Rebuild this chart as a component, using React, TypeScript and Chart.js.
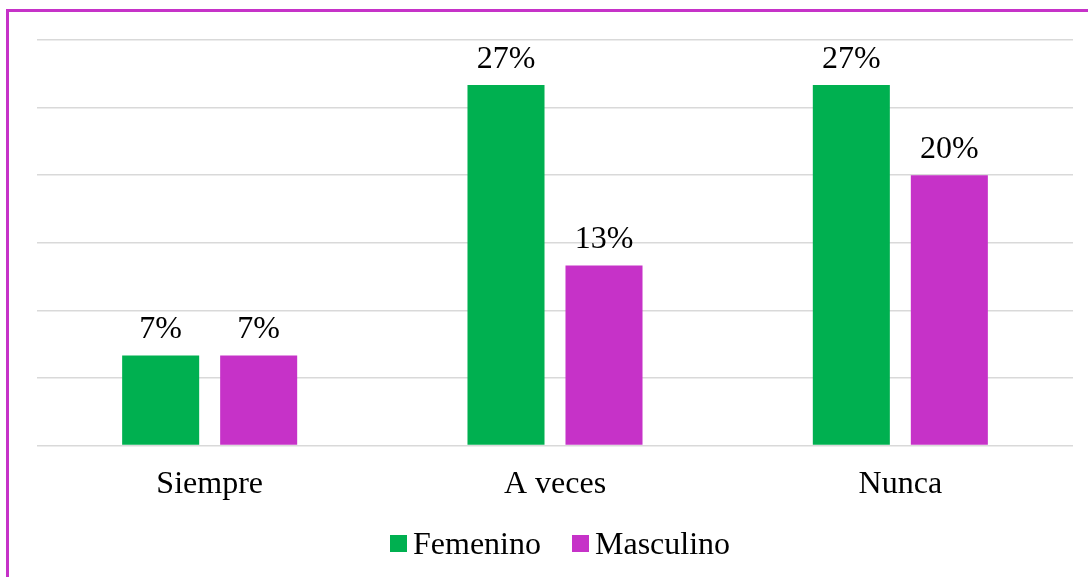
import React, { useEffect, useRef } from "react";
import { Chart, registerables } from "chart.js";

Chart.register(...registerables);

const categories = ["Siempre", "A veces", "Nunca"];
const femenino = [6.67, 26.67, 26.67];
const masculino = [6.67, 13.33, 20];
const seriesNames = ["Femenino", "Masculino"];
const yTicks = [0, 5, 10, 15, 20, 25, 30];

const GREEN = "#00B050";
const MAGENTA = "#C632C8";
const FONT = '"Liberation Serif", "Times New Roman", serif';

const labelPlugin = {
  id: "barLabels",
  afterDatasetsDraw(chart: any) {
    const ctx = chart.ctx;
    ctx.save();
    ctx.font = `32px ${FONT}`;
    ctx.fillStyle = "#000";
    ctx.textAlign = "center";
    ctx.textBaseline = "alphabetic";
    chart.data.datasets.forEach((ds: any, i: number) => {
      const meta = chart.getDatasetMeta(i);
      meta.data.forEach((el: any, j: number) => {
        const v = ds.data[j];
        ctx.fillText(Math.round(v) + "%", el.x, el.y - 17);
      });
    });
    ctx.restore();
  },
};

export default function App() {
  const ref = useRef<HTMLCanvasElement>(null);
  useEffect(() => {
    const chart = new Chart(ref.current!, {
      type: "bar",
      data: {
        labels: categories,
        datasets: [
          { label: seriesNames[0], data: femenino, backgroundColor: GREEN },
          { label: seriesNames[1], data: masculino, backgroundColor: MAGENTA },
        ],
      },
      options: {
        animation: false,
        responsive: false,
        maintainAspectRatio: false,
        layout: { padding: { left: 37, right: 15, top: 40, bottom: 53 } },
        plugins: { legend: { display: false }, tooltip: { enabled: false } },
        datasets: { bar: { categoryPercentage: 0.5676, barPercentage: 0.786 } },
        scales: {
          x: {
            grid: { display: false, drawTicks: false },
            border: { display: false },
            ticks: { color: "#000", font: { family: FONT, size: 32 }, padding: 20 },
          },
          y: {
            min: 0,
            max: 30,
            afterBuildTicks: (s: any) => {
              s.ticks = yTicks.map((v) => ({ value: v }));
            },
            grid: { color: "#d9d9d9", lineWidth: 1.5, drawTicks: false },
            border: { display: false },
            ticks: { display: false },
          },
        },
      },
      plugins: [labelPlugin],
    });
    return () => chart.destroy();
  }, []);

  const legendItem = (name: string, color: string) => (
    <div style={{ display: "flex", alignItems: "center" }}>
      <div style={{ width: 17, height: 17, background: color, marginRight: 6 }} />
      <span style={{ fontFamily: FONT, fontSize: 32, color: "#000", lineHeight: "34px" }}>{name}</span>
    </div>
  );

  return (
    <div style={{ position: "absolute", left: 0, top: 0, width: 1088, height: 577, overflow: "hidden", background: "#fff" }}>
      <div
        style={{
          position: "absolute",
          left: 6,
          top: 9,
          width: 1200,
          height: 700,
          borderLeft: `3px solid ${MAGENTA}`,
          borderTop: `3px solid ${MAGENTA}`,
          boxSizing: "border-box",
        }}
      />
      <canvas ref={ref} width={1088} height={577} style={{ position: "absolute", left: 0, top: 0 }} />
      <div
        style={{
          position: "absolute",
          left: 390,
          top: 526,
          display: "flex",
          gap: 31,
        }}
      >
        {legendItem(seriesNames[0], GREEN)}
        {legendItem(seriesNames[1], MAGENTA)}
      </div>
    </div>
  );
}
